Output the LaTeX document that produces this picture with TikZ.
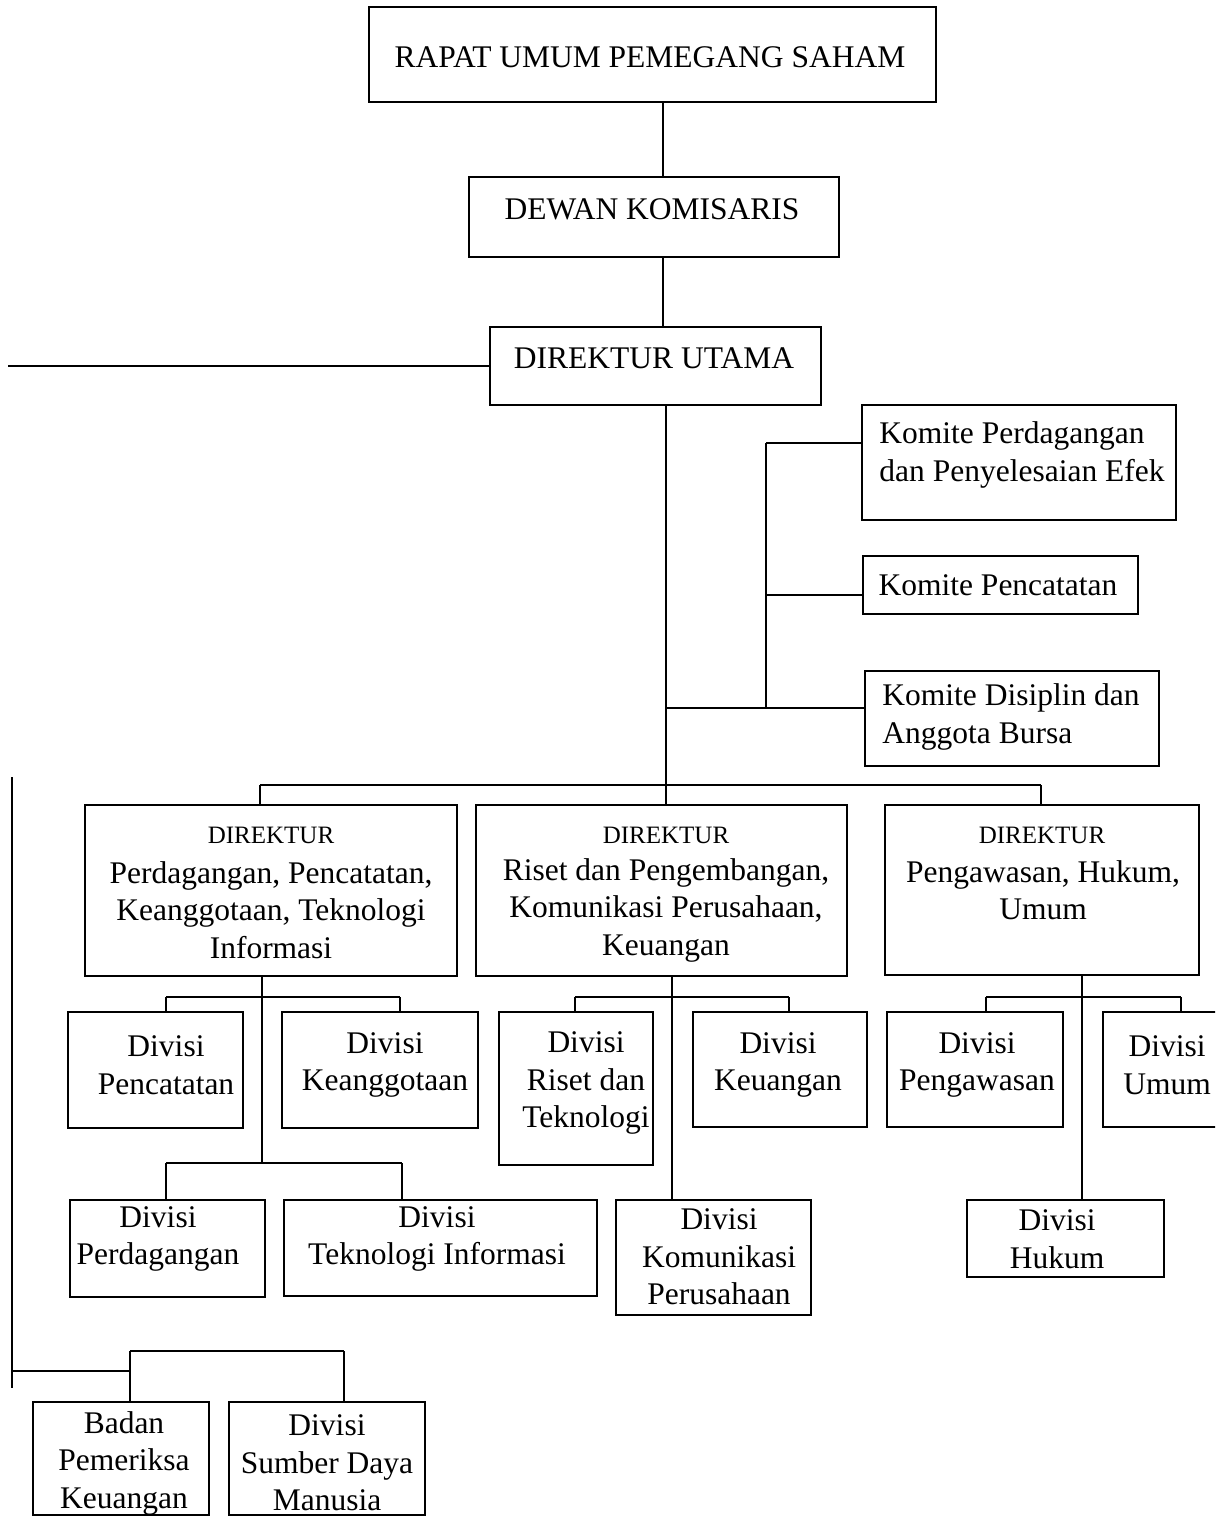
\documentclass[tikz,border=0pt]{standalone}
\usepackage{fontspec}
\setmainfont{Liberation Serif}
\newcommand\obox[5]{%
  \node[box, minimum width={(#4-#2)*1pt}, minimum height={(#5-#3)*1pt}] (#1) at ({(#2+#4)/2},{(#3+#5)/2}) {};}
\tikzset{
  box/.style={draw, line width=1.5pt, inner sep=0pt, outer sep=0pt, rectangle},
  txt/.style={font=\fontsize{31.5}{37.5}\selectfont, align=center, inner sep=0pt},
  txtl/.style={font=\fontsize{31.5}{37.5}\selectfont, align=left, inner sep=0pt},
  small/.style={font=\fontsize{25}{30}\selectfont, inner sep=0pt},
  conn/.style={line width=1.5pt}
}
\begin{document}
\begin{tikzpicture}[x=1pt, y=-1pt]
\useasboundingbox (0,0) rectangle (1215,1517);
\clip (0,0) rectangle (1215,1517);
\fill[white] (0,0) rectangle (1215,1517);
% boxes
\obox{rups}{369}{7}{936}{102}
\obox{dk}{469}{177}{839}{257}
\obox{du}{490}{327}{821}{405}
\obox{kppe}{862}{405}{1176}{520}
\obox{kp}{863}{556}{1138}{614}
\obox{kdab}{865}{671}{1159}{766}
\obox{d1}{85}{805}{457}{976}
\obox{d2}{476}{805}{847}{976}
\obox{d3}{885}{805}{1199}{975}
\obox{dpen}{68}{1012}{243}{1128}
\obox{dkea}{282}{1012}{478}{1128}
\obox{dper}{70}{1200}{265}{1297}
\obox{dti}{284}{1200}{597}{1296}
\obox{driset}{499}{1012}{653}{1165}
\obox{dkeu}{693}{1012}{867}{1127}
\obox{dkom}{616}{1200}{811}{1315}
\obox{dpeng}{887}{1012}{1063}{1127}
\obox{dumum}{1103}{1012}{1240}{1127}
\obox{dhuk}{967}{1200}{1164}{1277}
\obox{bpk}{33}{1402}{209}{1515}
\obox{sdm}{229}{1402}{425}{1515}
% texts
\node[txt] (trups) at (650,57) {RAPAT UMUM PEMEGANG SAHAM};
\node[txt] (tdk) at (652,209) {DEWAN KOMISARIS};
\node[txt] (tdu) at (654,358) {DIREKTUR UTAMA};
\node[txtl] (tkppe) at (1022,455) {Komite Perdagangan\\dan Penyelesaian Efek};
\node[txt] (tkp) at (998,585) {Komite Pencatatan};
\node[txtl] (tkdab) at (1011,717) {Komite Disiplin dan\\Anggota Bursa};
\node[small] (hd1) at (271,835) {DIREKTUR};
\node[txt] (td1) at (271,910) {Perdagangan, Pencatatan,\\Keanggotaan, Teknologi\\Informasi};
\node[small] (hd2) at (666,835) {DIREKTUR};
\node[txt] (td2) at (666,910) {Riset dan Pengembangan,\\Komunikasi Perusahaan,\\Keuangan};
\node[small] (hd3) at (1042,835) {DIREKTUR};
\node[txt] (td3) at (1043,890) {Pengawasan, Hukum,\\Umum};
\node[txt] (tdpen) at (166,1065) {Divisi\\Pencatatan};
\node[txt] (tdkea) at (385,1065) {Divisi\\Keanggotaan};
\node[txt] (tdper) at (158,1239) {Divisi\\Perdagangan};
\node[txt] (tdti) at (437,1239) {Divisi\\Teknologi Informasi};
\node[txt] (tdriset) at (586,1083) {Divisi\\Riset dan\\Teknologi};
\node[txt] (tdkeu) at (778,1065) {Divisi\\Keuangan};
\node[txt] (tdkom) at (719,1257) {Divisi\\Komunikasi\\Perusahaan};
\node[txt] (tdpeng) at (977,1065) {Divisi\\Pengawasan};
\node[txt] (tdumum) at (1167,1065) {Divisi\\Umum};
\node[txt] (tdhuk) at (1057,1239) {Divisi\\Hukum};
\node[txt] (tbpk) at (124,1463) {Badan\\Pemeriksa\\Keuangan};
\node[txt] (tsdm) at (327,1463) {Divisi\\Sumber Daya\\Manusia};
% junction coordinates
\coordinate (lend) at (8,366);
\coordinate (bus) at (666,785);
\coordinate (busl) at (260,785);
\coordinate (busr) at (1041,785);
\coordinate (kv1) at (766,443);
\coordinate (kv2) at (766,595);
\coordinate (kv3) at (766,708);
\coordinate (mj) at (666,708);
\coordinate (a1l) at (166,997);
\coordinate (a1r) at (400,997);
\coordinate (b1l) at (166,1163);
\coordinate (b1r) at (402,1163);
\coordinate (b1m) at (262,1163);
\coordinate (a2l) at (575,997);
\coordinate (a2r) at (789,997);
\coordinate (a3l) at (986,997);
\coordinate (a3r) at (1181,997);
\coordinate (lt) at (12,777);
\coordinate (lb) at (12,1388);
\coordinate (lj) at (12,1371);
\coordinate (bj) at (130,1371);
\coordinate (bl) at (130,1351);
\coordinate (br) at (344,1351);
% connectors
\draw[conn] (663,0 |- rups.south) -- (663,0 |- dk.north);
\draw[conn] (663,0 |- dk.south) -- (663,0 |- du.north);
\draw[conn] (du.west) -- (lend);
\draw[conn] (666,0 |- du.south) -- (bus);
\draw[conn] (busl) -- (busr);
\draw[conn] (busl) -- (busl |- d1.north);
\draw[conn] (bus) -- (bus |- d2.north);
\draw[conn] (busr) -- (busr |- d3.north);
\draw[conn] (mj) -- (kdab.west |- mj);
\draw[conn] (kv1) -- (kv3);
\draw[conn] (kv1) -- (kppe.west |- kv1);
\draw[conn] (kv2) -- (kp.west |- kv2);
% direktur 1
\draw[conn] (b1m |- d1.south) -- (b1m);
\draw[conn] (a1l) -- (a1r);
\draw[conn] (a1l) -- (a1l |- dpen.north);
\draw[conn] (a1r) -- (a1r |- dkea.north);
\draw[conn] (b1l) -- (b1r);
\draw[conn] (b1l) -- (b1l |- dper.north);
\draw[conn] (b1r) -- (b1r |- dti.north);
% direktur 2
\draw[conn] (672,0 |- d2.south) -- (672,0 |- dkom.north);
\draw[conn] (a2l) -- (a2r);
\draw[conn] (a2l) -- (a2l |- driset.north);
\draw[conn] (a2r) -- (a2r |- dkeu.north);
% direktur 3
\draw[conn] (1082,0 |- d3.south) -- (1082,0 |- dhuk.north);
\draw[conn] (a3l) -- (a3r);
\draw[conn] (a3l) -- (a3l |- dpeng.north);
\draw[conn] (a3r) -- (a3r |- dumum.north);
% left branch
\draw[conn] (lt) -- (lb);
\draw[conn] (lj) -- (bj);
\draw[conn] (bl) -- (br);
\draw[conn] (bl) -- (bl |- bpk.north);
\draw[conn] (br) -- (br |- sdm.north);
\end{tikzpicture}
\end{document}
